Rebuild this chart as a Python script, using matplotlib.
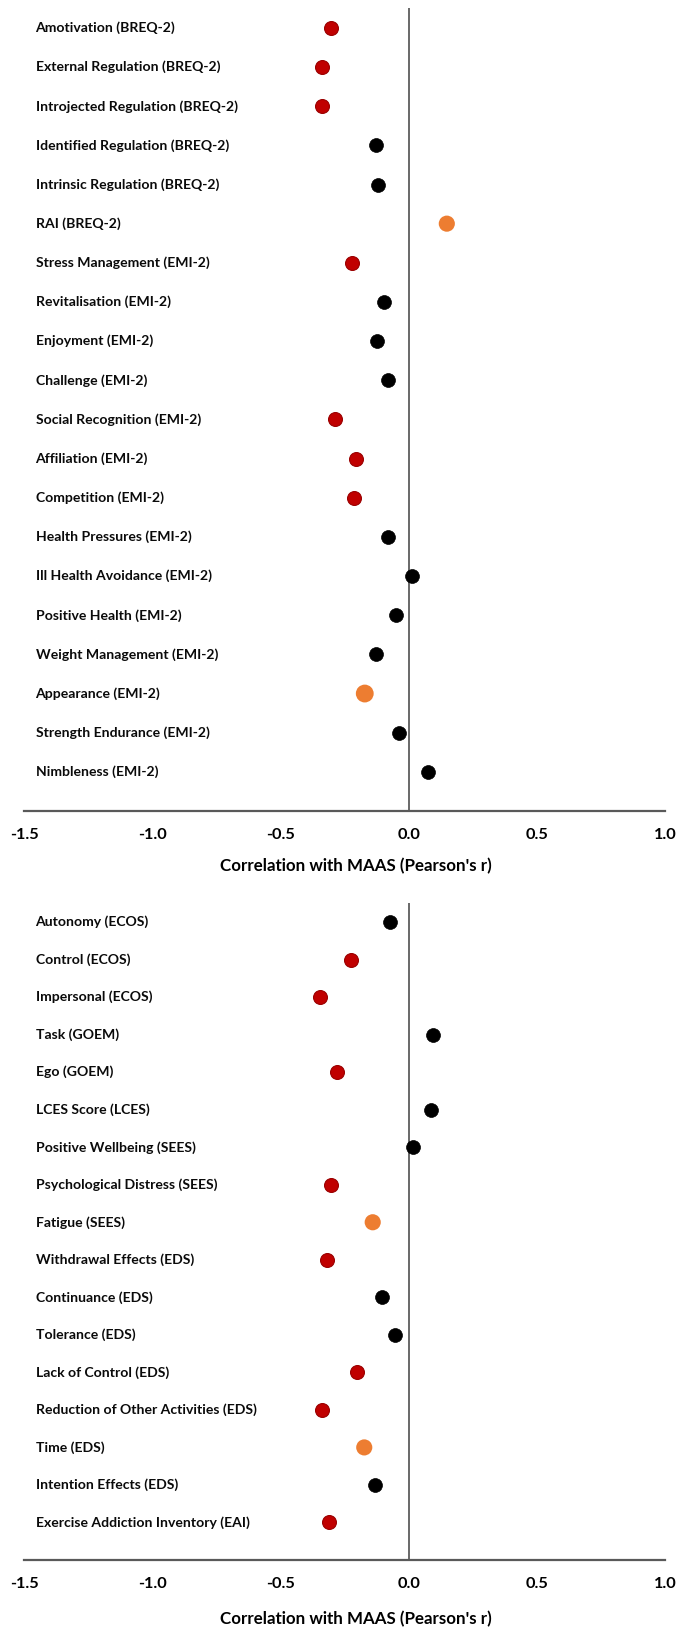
import matplotlib
matplotlib.use("Agg")
import matplotlib.pyplot as plt
import matplotlib.transforms as mtransforms

plt.rcParams['font.family'] = ['Lato', 'DejaVu Sans']

# top panel (BREQ-2 / EMI-2)
top_labels = [
    "Amotivation (BREQ-2)", "External Regulation (BREQ-2)", "Introjected Regulation (BREQ-2)",
    "Identified Regulation (BREQ-2)", "Intrinsic Regulation (BREQ-2)", "RAI (BREQ-2)",
    "Stress Management (EMI-2)", "Revitalisation (EMI-2)", "Enjoyment (EMI-2)",
    "Challenge (EMI-2)", "Social Recognition (EMI-2)", "Affiliation (EMI-2)",
    "Competition (EMI-2)", "Health Pressures (EMI-2)", "Ill Health Avoidance (EMI-2)",
    "Positive Health (EMI-2)", "Weight Management (EMI-2)", "Appearance (EMI-2)",
    "Strength Endurance (EMI-2)", "Nimbleness (EMI-2)",
]
top_r = [-0.304, -0.337, -0.337, -0.127, -0.118, 0.149, -0.222, -0.097, -0.125, -0.080,
         -0.287, -0.204, -0.214, -0.082, 0.015, -0.050, -0.127, -0.171, -0.036, 0.074]
# r = red (significant negative), k = black (n.s.), o = orange
top_grp = ["r", "r", "r", "k", "k", "o", "r", "k", "k", "k",
           "r", "r", "r", "k", "k", "k", "k", "O", "k", "k"]

# bottom panel (ECOS / GOEM / LCES / SEES / EDS / EAI)
bot_labels = [
    "Autonomy (ECOS)", "Control (ECOS)", "Impersonal (ECOS)", "Task (GOEM)", "Ego (GOEM)",
    "LCES Score (LCES)", "Positive Wellbeing (SEES)", "Psychological Distress (SEES)",
    "Fatigue (SEES)", "Withdrawal Effects (EDS)", "Continuance (EDS)", "Tolerance (EDS)",
    "Lack of Control (EDS)", "Reduction of Other Activities (EDS)", "Time (EDS)",
    "Intention Effects (EDS)", "Exercise Addiction Inventory (EAI)",
]
bot_r = [-0.072, -0.224, -0.344, 0.094, -0.279, 0.087, 0.017, -0.301, -0.140,
         -0.318, -0.104, -0.055, -0.202, -0.339, -0.173, -0.132, -0.310]
bot_grp = ["k", "r", "r", "k", "r", "k", "k", "r", "o",
           "r", "k", "k", "r", "r", "o", "k", "r"]

xticks = [-1.5, -1.0, -0.5, 0.0, 0.5, 1.0]

styles = {
    "r": dict(c="#C00000", edgecolors="#9A0000", linewidths=0.8, s=100),
    "k": dict(c="#000000", edgecolors="#000000", linewidths=0.5, s=100),
    "o": dict(c="#ED7D31", edgecolors="none", linewidths=0, s=135),
    "O": dict(c="#ED7D31", edgecolors="none", linewidths=0, s=165),
}

fig = plt.figure(figsize=(6.85, 16.37), dpi=100)
ax1 = fig.add_axes([0.03504, 0.50458, 0.93577, 0.49035])
ax2 = fig.add_axes([0.03504, 0.04704, 0.93577, 0.40116])


def draw(ax, labels, vals, grps, label_y):
    n = len(labels)
    ys = list(range(n, 0, -1))
    trans = mtransforms.blended_transform_factory(ax.transAxes, ax.transData)
    for lab, v, g, y in zip(labels, vals, grps, ys):
        ax.scatter([v], [y], zorder=3, **styles[g])
        ax.text(0.018, y, lab, transform=trans, ha="left", va="center",
                fontsize=10.1, fontweight="bold", color="#0a0a0a")
    ax.set_xlim(-1.5, 1.0)
    ax.set_ylim(0, n + 0.5)
    ax.axvline(0, color="#404040", lw=1.1, zorder=1)
    for s in ["top", "right", "left"]:
        ax.spines[s].set_visible(False)
    ax.spines["bottom"].set_color("#595959")
    ax.spines["bottom"].set_linewidth(1.6)
    ax.set_yticks([])
    ax.set_xticks(xticks)
    ax.set_xticklabels([f"{t:.1f}" for t in xticks], fontsize=11.8, fontweight="bold")
    ax.tick_params(axis="x", length=0, pad=12)
    ax.set_xlabel("Correlation with MAAS (Pearson's r)", fontsize=12.2,
                  fontweight="bold")
    ax.xaxis.set_label_coords(0.518, label_y)


draw(ax1, top_labels, top_r, top_grp, -0.058)
draw(ax2, bot_labels, bot_r, bot_grp, -0.078)

fig.savefig("out.png", dpi=100, facecolor="white")
